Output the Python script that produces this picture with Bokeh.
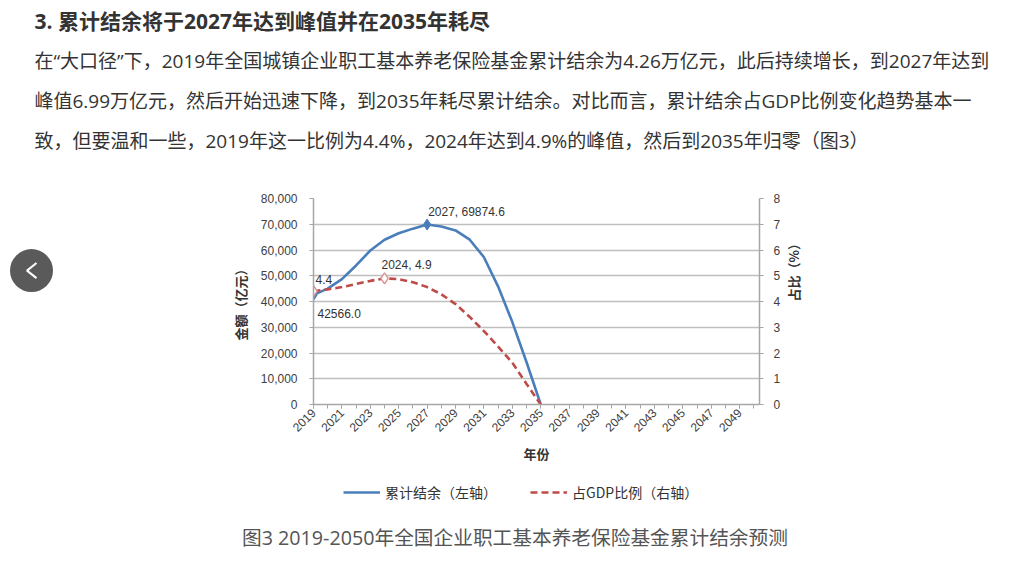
from math import pi
from bokeh.plotting import figure
from bokeh.layouts import column, row
from bokeh.models import (Range1d, LinearAxis, FixedTicker, NumeralTickFormatter,
                          Label, Legend, LegendItem, ColumnDataSource)
from bokeh.core.properties import value
from bokeh.embed import file_html
from bokeh.resources import INLINE

# ---------------- data ----------------
years = list(range(2019, 2036))
balance = [42566.0, 45000, 48700, 54000, 59800, 64000, 66500, 68300, 69874.6,
           69100, 67600, 64000, 57200, 45800, 32000, 16400, 0]
gdp_ratio = [4.4, 4.47, 4.56, 4.68, 4.8, 4.9, 4.87, 4.75, 4.56,
             4.28, 3.9, 3.4, 2.85, 2.25, 1.62, 0.8, 0]
year_ticks = list(range(2019, 2050, 2))
minor_year_ticks = list(range(2019, 2051))
left_ticks = list(range(0, 80001, 10000))
right_ticks = list(range(0, 9))

heading = "3. 累计结余将于2027年达到峰值并在2035年耗尽"
body = [
    "在“大口径”下，2019年全国城镇企业职工基本养老保险基金累计结余为4.26万亿元，此后持续增长，到2027年达到",
    "峰值6.99万亿元，然后开始迅速下降，到2035年耗尽累计结余。对比而言，累计结余占GDP比例变化趋势基本一",
    "致，但要温和一些，2019年这一比例为4.4%，2024年达到4.9%的峰值，然后到2035年归零（图3）",
]
caption = "图3  2019-2050年全国企业职工基本养老保险基金累计结余预测"
series_names = ["累计结余（左轴）", "占GDP比例（右轴）"]
x_title = "年份"
left_title = "金额（亿元）"
right_title = "占比（%）"

# ---------------- styling ----------------
W, H = 1018, 561
TOP_H = 176          # text block above chart
MID_H = 300          # chart row
BOT_H = H - TOP_H - MID_H
SIDE_W = 60
FL, FR, FT, FB = 313, 759, 198, 404   # chart frame in page pixels
BLUE = "#4a7ebb"
RED = "#be4b48"
CJK = "Noto Sans CJK SC"
PAGE_FONT = "Open Sans, Noto Sans CJK SC"
NUM = "Liberation Sans"
TXT = "#333333"


def blank(width, height):
    f = figure(width=width, height=height, output_backend="svg", toolbar_location=None,
               x_axis_type=None, y_axis_type=None,
               x_range=Range1d(0, width), y_range=Range1d(height, 0),
               min_border=0, min_border_left=0, min_border_right=0,
               min_border_top=0, min_border_bottom=0)
    f.outline_line_color = None
    f.background_fill_color = "white"
    f.border_fill_color = "white"
    f.grid.visible = False
    return f


# ---------------- text block above ----------------
top = blank(W, TOP_H)
top.text(x=[34], y=[20], text=[heading], text_font=value(PAGE_FONT), text_font_size="21px",
         text_font_style="bold", text_color=TXT, text_baseline="middle", text_align="left")
top.text(x=[34] * len(body), y=[60 + 40 * i for i in range(len(body))], text=body,
         text_font=value(PAGE_FONT), text_font_size="19px", text_color=TXT,
         text_baseline="middle", text_align="left")

# ---------------- side strip with carousel arrow ----------------
side = blank(SIDE_W, MID_H)
side.scatter(x=[31], y=[281 - TOP_H], marker="circle", size=43,
             fill_color="#5a5a5a", line_color=None)
side.line(x=[36, 26.5, 36], y=[270 - TOP_H, 281 - TOP_H, 292 - TOP_H],
          line_color="white", line_width=2)

# ---------------- chart ----------------
CW = W - SIDE_W
p = figure(width=CW, height=MID_H, output_backend="svg", toolbar_location=None,
           x_range=Range1d(2019, 2050.4), y_range=Range1d(0, 80000),
           min_border_left=FL - SIDE_W, min_border_right=W - FR,
           min_border_top=FT - TOP_H, min_border_bottom=TOP_H + MID_H - FB)
p.extra_y_ranges = {"pct": Range1d(0, 8)}
p.outline_line_color = None
p.background_fill_color = "white"
p.border_fill_color = "white"

p.xgrid.visible = False
p.ygrid.ticker = FixedTicker(ticks=left_ticks)
p.ygrid.grid_line_color = "#bfbfbf"
p.ygrid.grid_line_width = 1.6

AX = "#a6a6a6"
xa = p.xaxis[0]
xa.ticker = FixedTicker(ticks=year_ticks, minor_ticks=minor_year_ticks)
xa.major_label_orientation = pi / 4
xa.axis_label = x_title
xa.axis_label_text_font = CJK
xa.axis_label_text_font_style = "bold"
xa.axis_label_text_font_size = "13px"
xa.axis_label_text_color = TXT
xa.axis_label_standoff = 5
xa.major_label_text_font = NUM
xa.major_label_text_font_size = "12px"
xa.major_label_text_color = "#404040"
xa.major_label_standoff = 2
xa.axis_line_color = AX
xa.axis_line_width = 1.5
xa.major_tick_line_color = AX
xa.minor_tick_line_color = AX
xa.major_tick_in = 0
xa.major_tick_out = 4
xa.minor_tick_in = 0
xa.minor_tick_out = 4

ya = p.yaxis[0]
ya.ticker = FixedTicker(ticks=left_ticks)
ya.formatter = NumeralTickFormatter(format="0,0")
ya.axis_label = left_title
ya.axis_label_text_font = CJK
ya.axis_label_text_font_style = "bold"
ya.axis_label_text_font_size = "13px"
ya.axis_label_text_color = TXT
ya.axis_label_standoff = 8
ya.major_label_text_font = NUM
ya.major_label_text_font_size = "12px"
ya.major_label_text_color = "#404040"
ya.major_label_standoff = 12
ya.axis_line_color = AX
ya.axis_line_width = 1.5
ya.major_tick_line_color = AX
ya.major_tick_in = 0
ya.major_tick_out = 4
ya.minor_tick_line_color = None

ra = LinearAxis(y_range_name="pct", ticker=FixedTicker(ticks=right_ticks))
ra.axis_label = right_title
ra.axis_label_text_font = CJK
ra.axis_label_text_font_style = "bold"
ra.axis_label_text_font_size = "13px"
ra.axis_label_text_color = TXT
ra.axis_label_standoff = 10
try:
    ra.axis_label_orientation = pi / 2   # reads bottom-to-top, like the reference
except Exception:
    pass
ra.major_label_text_font = NUM
ra.major_label_text_font_size = "12px"
ra.major_label_text_color = "#404040"
ra.major_label_standoff = 10
ra.axis_line_color = AX
ra.axis_line_width = 1.5
ra.major_tick_line_color = AX
ra.major_tick_in = 0
ra.major_tick_out = 4
ra.minor_tick_line_color = None
p.add_layout(ra, "right")

src = ColumnDataSource(dict(year=years, balance=balance, ratio=gdp_ratio))
bl = p.line("year", "balance", source=src, line_color=BLUE, line_width=2.6)
rl = p.line("year", "ratio", source=src, y_range_name="pct", line_color=RED,
            line_width=2.6, line_dash="7 4")

ipk = balance.index(max(balance))
jpk = gdp_ratio.index(max(gdp_ratio))
p.scatter([years[0], years[ipk]], [balance[0], balance[ipk]], marker="diamond",
          size=11, fill_color=BLUE, line_color=BLUE)
p.scatter([years[0], years[jpk]], [gdp_ratio[0], gdp_ratio[jpk]], y_range_name="pct",
          marker="diamond", size=11, fill_color="white", line_color="#d99694", line_width=1.5)

lab_kw = dict(text_font=NUM, text_font_size="12px", text_color=TXT,
              text_baseline="middle", level="overlay")
p.add_layout(Label(x=years[ipk], y=balance[ipk], text=f"{years[ipk]}, {balance[ipk]:.1f}",
                   x_offset=1, y_offset=13, **lab_kw))
p.add_layout(Label(x=years[0], y=balance[0], text=f"{balance[0]:.1f}",
                   x_offset=4, y_offset=-19, **lab_kw))
p.add_layout(Label(x=years[jpk], y=gdp_ratio[jpk], y_range_name="pct",
                   text=f"{years[jpk]}, {gdp_ratio[jpk]}", x_offset=-3, y_offset=13, **lab_kw))
p.add_layout(Label(x=years[0], y=gdp_ratio[0], y_range_name="pct",
                   text=f"{gdp_ratio[0]}", x_offset=2, y_offset=12, **lab_kw))

# ---------------- legend + caption below ----------------
bot = blank(W, BOT_H)
# legend swatches (drawn off-canvas; only their legend glyphs are visible)
proxy_b = bot.line(x=[-60, -50], y=[-60, -60], line_color=BLUE, line_width=2.6)
proxy_r = bot.line(x=[-60, -50], y=[-60, -60], line_color=RED, line_width=2.6, line_dash="7 4")
legend = Legend(items=[LegendItem(label=series_names[0], renderers=[proxy_b]),
                       LegendItem(label=series_names[1], renderers=[proxy_r])],
                location=(343, BOT_H - 26), orientation="horizontal",
                glyph_width=37, glyph_height=16, label_height=16,
                label_text_font=CJK, label_text_font_size="14px", label_text_color=TXT,
                spacing=33, label_standoff=5, padding=0, margin=0,
                border_line_color=None, background_fill_alpha=0)
bot.add_layout(legend, "center")
bot.text(x=[517], y=[537 - TOP_H - MID_H], text=[caption], text_font=value(PAGE_FONT),
         text_font_size="19.7px", text_color="#555555", text_baseline="middle",
         text_align="center")

page = column(top, row(side, p), bot)
open("out.html", "w").write(file_html(page, INLINE))
